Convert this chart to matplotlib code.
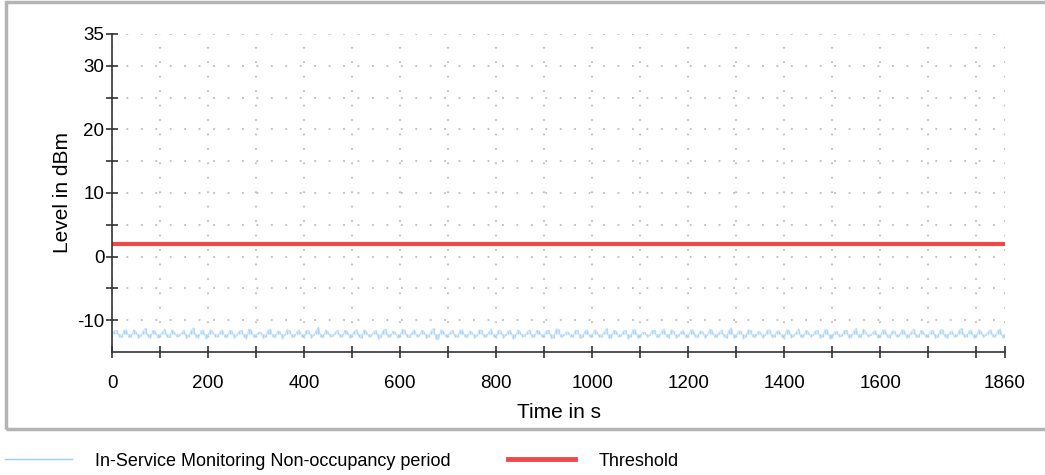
import matplotlib.pyplot as plt
from matplotlib.patches import Rectangle
from matplotlib.lines import Line2D

plt.rcParams['font.family'] = ['Liberation Sans', 'DejaVu Sans']
plt.rcParams['axes.unicode_minus'] = False

# level samples at 0, 10, 20 ... 1860 s
level_dbm = [
    -12.2, -11.6, -12.7, -11.5, -12.6, -11.8, -12.5, -11.3, -12.8, -11.7,
    -12.4, -11.4, -12.7, -11.9, -12.5, -11.6, -12.6, -11.2, -12.8, -11.6,
    -12.3, -11.8, -12.6, -11.5, -12.7, -11.7, -12.4, -11.6, -12.9, -11.5,
    -12.5, -11.9, -12.6, -11.4, -12.7, -11.8, -12.3, -11.6, -12.6, -11.5,
    -12.8, -11.7, -12.4, -11.1, -12.7, -11.8, -12.5, -11.6, -12.6, -11.7,
    -12.4, -11.5, -12.8, -11.8, -12.5, -11.6, -12.7, -11.4, -12.6, -11.9,
    -12.3, -11.6, -12.7, -11.5, -12.5, -11.8, -12.6, -11.3, -12.9, -11.7,
    -12.4, -11.6, -12.6, -11.5, -12.7, -11.9, -12.5, -11.6, -12.6, -11.4,
    -12.8, -11.7, -12.4, -11.6, -12.7, -11.8, -12.5, -11.5, -12.6, -11.7,
    -12.3, -11.6, -12.8, -11.4, -12.5, -11.8, -12.6, -11.6, -12.7, -11.5,
    -12.4, -11.8, -12.6, -11.3, -12.8, -11.7, -12.5, -11.6, -12.6, -11.5,
    -12.7, -11.9, -12.4, -11.6, -12.6, -11.4, -12.8, -11.7, -12.5, -11.6,
    -12.6, -11.5, -12.7, -11.8, -12.4, -11.6, -12.6, -11.5, -12.8, -11.2,
    -12.5, -11.7, -12.6, -11.6, -12.7, -11.8, -12.4, -11.5, -12.6, -11.7,
    -12.9, -11.6, -12.5, -11.4, -12.7, -11.8, -12.4, -11.6, -12.6, -11.5,
    -12.8, -11.7, -12.5, -11.6, -12.6, -11.3, -12.7, -11.8, -12.4, -11.6,
    -12.6, -11.5, -12.8, -11.7, -12.5, -11.6, -12.6, -11.4, -12.7, -11.8,
    -12.4, -11.6, -12.6, -11.5, -12.8, -11.7, -12.5, -11.3, -12.6, -11.6,
    -12.7, -11.7, -12.4, -11.5, -12.6, -11.4, -12.3,
]
# samples in between, at 5, 15, 25 ... 1855 s
level_dbm_mid = [
    -11.7, -12.6, -11.6, -12.7, -11.5, -12.8, -11.7, -12.6, -11.6, -12.8,
    -11.8, -12.7, -11.5, -12.6, -11.9, -12.8, -11.6, -12.7, -11.7, -12.9,
    -11.5, -12.6, -11.8, -12.7, -11.6, -12.8, -11.7, -12.6, -11.4, -12.7,
    -11.9, -12.8, -11.6, -12.6, -11.7, -12.9, -11.5, -12.7, -11.8, -12.6,
    -11.6, -12.8, -11.7, -12.7, -11.5, -12.6, -11.9, -12.6, -11.6, -12.8,
    -11.7, -12.7, -11.5, -12.6, -11.8, -12.9, -11.6, -12.6, -11.7, -12.8,
    -11.4, -12.7, -11.9, -12.6, -11.6, -12.8, -11.7, -13.0, -11.5, -12.6,
    -11.8, -12.7, -11.6, -12.6, -11.7, -12.8, -11.5, -12.7, -11.9, -12.6,
    -11.6, -12.8, -11.7, -12.9, -11.5, -12.6, -11.8, -12.7, -11.6, -12.6,
    -11.7, -12.8, -11.4, -12.7, -11.9, -12.6, -11.6, -12.8, -11.7, -12.6,
    -11.5, -12.7, -11.8, -12.8, -11.6, -12.6, -11.7, -12.9, -11.5, -12.8,
    -11.9, -12.6, -11.6, -12.7, -11.7, -12.6, -11.5, -12.8, -11.8, -12.7,
    -11.6, -12.6, -11.7, -12.8, -11.4, -12.7, -11.9, -12.6, -11.6, -12.8,
    -11.7, -12.9, -11.5, -12.6, -11.8, -12.8, -11.6, -12.7, -11.7, -12.6,
    -11.5, -12.8, -11.9, -12.7, -11.6, -12.6, -11.7, -12.8, -11.5, -12.9,
    -11.8, -12.6, -11.6, -12.8, -11.7, -12.7, -11.4, -12.6, -11.9, -12.8,
    -11.6, -12.6, -11.7, -12.7, -11.5, -12.8, -11.8, -12.6, -11.6, -12.7,
    -11.7, -12.8, -11.5, -12.6, -11.9, -12.7, -11.6, -12.6, -11.7, -12.8,
    -11.5, -12.7, -11.8, -12.6, -11.6, -12.8,
]
threshold_dbm = 2.0

y_major = [35, 30, 20, 10, 0, -10]
y_minor = [25, 15, 5, -5]
x_labels = [0, 200, 400, 600, 800, 1000, 1200, 1400, 1600, 1860]
x_minor = [100, 300, 500, 700, 900, 1100, 1300, 1500, 1700, 1800]

# interleave both sample lists on a 5 s raster
time_s = []
level = []
for i, v in enumerate(level_dbm):
    time_s.append(i * 10)
    level.append(v)
    if i < len(level_dbm_mid):
        time_s.append(i * 10 + 5)
        level.append(level_dbm_mid[i])
level_mean = sum(level) / len(level)

fig = plt.figure(figsize=(10.45, 4.75), dpi=100)
ax = fig.add_axes([0.1072, 0.259, 0.8545, 0.6695])

ax.fill_between(time_s, level, level_mean, color='#d6eafc', lw=0)
ax.vlines(time_s, level_mean, level, color='#a8d3fa', lw=0.9)
ax.plot(time_s, level, color='#b8dcfb', lw=0.6)
ax.axhline(threshold_dbm, color='#f04848', lw=3)

ax.set_xlim(0, 1860)
ax.set_ylim(-15, 35)
ax.set_yticks(y_major)
ax.set_yticks(y_minor, minor=True)
ax.set_xticks(x_labels)
ax.set_xticks(x_minor, minor=True)

for s in ['top', 'right']:
    ax.spines[s].set_visible(False)
for s in ['left', 'bottom']:
    ax.spines[s].set_color('#333333')
    ax.spines[s].set_linewidth(1.2)

ax.tick_params(which='both', direction='inout', length=9, width=1.1,
               color='#222222', labelsize=13.5)
ax.tick_params(axis='x', pad=12)
ax.tick_params(axis='y', pad=1)
ax.grid(True, which='both', color='#bcbcbc', ls=(0, (1, 7)), lw=1.3)

ax.set_xlabel('Time in s', fontsize=15, labelpad=8)
ax.set_ylabel('Level in dBm', fontsize=15, labelpad=4)

# grey frame round the chart area
fig.patches.append(Rectangle((6 / 1045, 1 - 429 / 475), 1.2, 427 / 475,
                             transform=fig.transFigure, fill=False,
                             edgecolor='#b4b4b4', lw=2.5))

handles = [Line2D([], [], color='#9ccdf9', lw=1),
           Line2D([], [], color='#f04848', lw=3.5)]
fig.legend(handles, ['In-Service Monitoring Non-occupancy period', 'Threshold'],
           loc='center left', bbox_to_anchor=(-0.011, 0.029), ncol=2, frameon=False,
           fontsize=13, handlelength=3.7, handletextpad=1.3, columnspacing=3.2)

fig.savefig('out.png', dpi=100)
